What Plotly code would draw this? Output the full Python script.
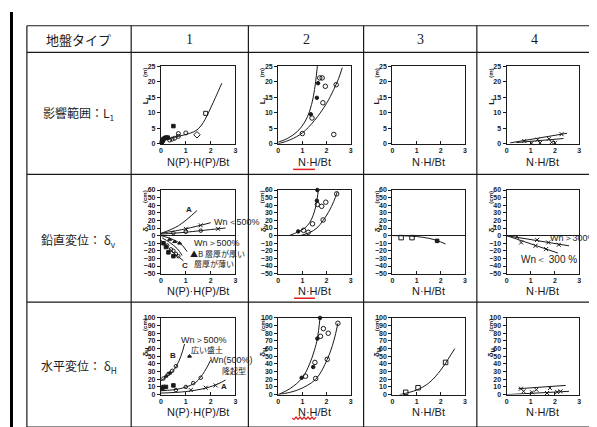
import plotly.graph_objects as go

W, H = 597, 427

# ---------------- text ----------------
header_labels = ["地盤タイプ", "1", "2", "3", "4"]
row_labels = ["影響範囲：L<sub>1</sub>", "鉛直変位： δ<sub>v</sub>", "水平変位： δ<sub>H</sub>"]
x_titles = ["N(P)·H(P)/Bt", "N·H/Bt", "N·H/Bt", "N·H/Bt"]
y_titles = ["L<sub>l</sub>", "δ<sub>v</sub>", "δ<sub>H</sub>"]
y_units = ["(m)", "(cm)", "(cm)"]
x_ticks = [0, 1, 2, 3]
l1_ticks = [0, 5, 10, 15, 20, 25]
dv_ticks = [-50, -40, -30, -20, -10, 0, 10, 20, 30, 40, 50, 60]
dh_ticks = [0, 10, 20, 30, 40, 50, 60, 70, 80, 90, 100]

# ---------------- data : row 1 (L1) ----------------
r1c1_curve_x = [0.05, 0.3, 0.6, 1.0, 1.3, 1.5, 1.7, 1.85, 2.0, 2.2, 2.45]
r1c1_curve_y = [1.0, 1.6, 2.2, 3.0, 3.8, 4.8, 6.8, 9.0, 11.5, 15.0, 19.5]
r1c1_fill_x = [0.03, 0.07, 0.1, 0.15, 0.2, 0.27, 0.5]
r1c1_fill_y = [0.5, 1.0, 1.5, 1.8, 2.0, 2.0, 5.7]
r1c1_open_x = [0.35, 0.45, 0.55, 0.7, 0.7, 1.0]
r1c1_open_y = [1.2, 1.5, 1.8, 2.4, 3.3, 3.5]
r1c1_dia_x = [1.45]
r1c1_dia_y = [2.9]
r1c1_sq_x = [1.8]
r1c1_sq_y = [9.8]

r1c2_a_x = [0.0, 0.4, 0.8, 1.1, 1.3, 1.45, 1.55, 1.62]
r1c2_a_y = [0.5, 1.8, 4.0, 7.0, 10.5, 15.0, 20.0, 25.0]
r1c2_b_x = [0.0, 0.5, 1.0, 1.5, 2.0, 2.3, 2.5, 2.65]
r1c2_b_y = [0.0, 1.3, 3.5, 7.5, 13.0, 17.5, 21.0, 24.5]
r1c2_fill_x = [1.35, 1.6, 1.65]
r1c2_fill_y = [9.5, 14.8, 19.5]
r1c2_open_x = [1.0, 1.4, 1.72, 1.82, 1.95, 1.85, 2.4, 2.3]
r1c2_open_y = [3.3, 8.3, 21.2, 21.2, 18.5, 13.2, 19.0, 3.0]

r1c4_l1_x = [0.15, 2.5]
r1c4_l1_y = [0.3, 3.4]
r1c4_l2_x = [0.4, 2.35]
r1c4_l2_y = [0.4, 1.7]
r1c4_x_x = [0.73, 1.28, 1.75, 2.27, 1.03, 1.38, 1.86, 2.0]
r1c4_x_y = [0.9, 1.3, 1.6, 3.1, 0.2, 0.3, 0.5, 0.3]

# ---------------- data : row 2 (dv) ----------------
r2c1_a_x = [0.0, 0.7, 1.45]
r2c1_a_y = [3.0, 13.0, 33.0]
r2c1_b_x = [0.0, 1.0, 2.0]
r2c1_b_y = [3.0, 9.0, 17.0]
r2c1_c_x = [0.0, 1.0, 2.0, 2.6]
r2c1_c_y = [2.0, 4.5, 8.0, 10.0]
r2c1_up_x_x = [1.0, 1.6, 2.3]
r2c1_up_x_y = [9.0, 13.5, 9.0]
r2c1_up_o_x = [0.5, 1.0, 1.6]
r2c1_up_o_y = [3.5, 5.0, 6.5]
r2c1_d1_x = [0.0, 0.4, 0.8, 1.05]
r2c1_d1_y = [0.0, -4.0, -11.0, -21.0]
r2c1_d2_x = [0.05, 0.35, 0.65, 0.85]
r2c1_d2_y = [-3.0, -9.0, -17.0, -26.0]
r2c1_d3_x = [0.0, 0.3, 0.6, 0.9]
r2c1_d3_y = [-6.0, -16.0, -25.0, -33.0]
r2c1_tri_x = [0.35, 0.55, 0.75]
r2c1_tri_y = [-5.0, -8.0, -10.0]
r2c1_sq_x = [0.1, 0.2, 0.3, 0.5]
r2c1_sq_y = [-10.0, -15.0, -22.0, -27.0]
r2c1_o_x = [0.25, 0.4, 0.5, 0.6, 0.7]
r2c1_o_y = [-13.0, -18.0, -20.0, -24.0, -27.0]

r2c2_a_x = [0.45, 0.83, 1.1, 1.3, 1.45, 1.55, 1.62, 1.66]
r2c2_a_y = [0.0, 5.0, 10.0, 17.0, 27.0, 38.0, 50.0, 60.0]
r2c2_b_x = [0.9, 1.3, 1.6, 1.86, 2.1, 2.3, 2.45]
r2c2_b_y = [0.0, 4.0, 10.0, 20.0, 32.0, 45.0, 58.0]
r2c2_fill_x = [0.83, 1.6, 1.62]
r2c2_fill_y = [5.6, 46.0, 60.0]
r2c2_open_x = [1.05, 1.24, 1.42, 1.62, 1.8, 1.97, 1.86, 2.42]
r2c2_open_y = [7.0, 4.4, 15.5, 41.0, 38.6, 44.0, 20.6, 55.0]

r2c3_curve_x = [0.0, 0.5, 1.0, 1.5, 1.85, 2.2]
r2c3_curve_y = [0.0, -0.3, -1.2, -3.5, -6.5, -11.0]
r2c3_open_x = [0.36, 0.81]
r2c3_open_y = [-2.6, -2.6]
r2c3_fill_x = [1.85]
r2c3_fill_y = [-6.9]

r2c4_l1_x = [0.0, 2.58]
r2c4_l1_y = [0.0, -13.4]
r2c4_l2_x = [0.0, 2.12]
r2c4_l2_y = [0.0, -22.9]
r2c4_x_x = [0.42, 0.6, 1.26, 1.72, 2.16, 1.19, 1.63]
r2c4_x_y = [-1.7, -9.0, -5.6, -9.0, -12.0, -13.4, -17.7]

# ---------------- data : row 3 (dH) ----------------
r3c1_b_x = [0.0, 0.3, 0.6, 0.8, 0.95]
r3c1_b_y = [18.0, 25.0, 36.0, 50.0, 66.0]
r3c1_m_x = [0.0, 0.8, 1.4, 1.75, 2.0]
r3c1_m_y = [5.0, 8.0, 16.0, 30.0, 45.0]
r3c1_a_x = [0.0, 1.0, 1.8, 2.3, 2.6]
r3c1_a_y = [2.0, 4.0, 8.5, 14.0, 19.0]
r3c1_o_x = [0.1, 0.3, 0.45, 0.6, 0.6, 1.0, 1.3, 1.6]
r3c1_o_y = [21.0, 27.0, 31.0, 37.0, 6.0, 10.0, 15.0, 22.0]
r3c1_tri_x = [0.2, 0.35, 1.15]
r3c1_tri_y = [24.0, 28.0, 50.0]
r3c1_sq_x = [0.05, 0.1, 0.2, 0.5]
r3c1_sq_y = [8.0, 10.0, 10.0, 12.0]
r3c1_x_x = [1.2, 1.8, 2.2]
r3c1_x_y = [6.0, 9.0, 12.0]

r3c2_a_x = [0.0, 0.5, 1.0, 1.3, 1.5, 1.62, 1.73]
r3c2_a_y = [0.0, 8.0, 22.0, 40.0, 58.0, 73.0, 100.0]
r3c2_b_x = [0.0, 0.8, 1.55, 2.03, 2.3, 2.47]
r3c2_b_y = [0.0, 6.0, 20.0, 46.0, 70.0, 93.0]
r3c2_fill_x = [0.97, 1.45, 1.62, 1.73]
r3c2_fill_y = [22.0, 36.0, 73.0, 100.0]
r3c2_open_x = [1.13, 1.55, 2.03, 2.47, 1.75, 1.87, 2.07, 1.52]
r3c2_open_y = [24.0, 21.0, 46.0, 93.0, 76.0, 86.0, 80.0, 42.0]

r3c3_curve_x = [0.3, 1.0, 1.5, 2.0, 2.3, 2.58]
r3c3_curve_y = [0.0, 6.0, 15.0, 32.0, 46.0, 60.0]
r3c3_sq_x = [0.55, 1.06, 2.2]
r3c3_sq_y = [3.0, 9.0, 42.0]

r3c4_l1_x = [0.49, 2.44]
r3c4_l1_y = [7.7, 12.0]
r3c4_l2_x = [0.0, 2.58]
r3c4_l2_y = [0.0, 4.3]
r3c4_x_x = [0.59, 0.7, 1.05, 1.23, 1.79, 1.67, 2.09, 2.23]
r3c4_x_y = [7.7, 4.3, 3.0, 6.4, 8.6, 2.1, 3.4, 4.3]

# ---------------- layout geometry (pixels) ----------------
col_lines = [17, 122, 240, 356, 470, 587]
row_lines = [14, 41, 165, 295, 422]
plot_x = [(152, 227), (270, 343), (385, 458), (500, 573)]
plot_y = [(55, 134), (181, 266), (311, 389)]
xtitle_y = [153, 284, 407]
y_ranges = [[0, 25], [-50, 60], [0, 100]]
y_tickvals = [l1_ticks, dv_ticks, dh_ticks]

INK = "#1a1a1a"
fig = go.Figure()


def px(x):
    return x / W


def py(y):
    return 1 - y / H


def aid(r, c):
    return r * 4 + c + 1


def add(r, c, x, y, mode="lines", symbol=None, size=4, width=1.0):
    n = aid(r, c)
    kw = dict(x=x, y=y, mode=mode, xaxis="x" if n == 1 else f"x{n}",
              yaxis="y" if n == 1 else f"y{n}", showlegend=False,
              hoverinfo="skip", cliponaxis=False)
    if "lines" in mode:
        kw["line"] = dict(color=INK, width=width, shape="spline")
    if "markers" in mode:
        kw["marker"] = dict(symbol=symbol, size=size, color=INK,
                            line=dict(color=INK, width=1))
    fig.add_trace(go.Scatter(**kw))


# row 1
add(0, 0, r1c1_curve_x, r1c1_curve_y)
add(0, 0, r1c1_fill_x, r1c1_fill_y, "markers", "square", 3.5)
add(0, 0, r1c1_open_x, r1c1_open_y, "markers", "circle-open", 4)
add(0, 0, r1c1_dia_x, r1c1_dia_y, "markers", "diamond-open", 5)
add(0, 0, r1c1_sq_x, r1c1_sq_y, "markers", "square-open", 4)
add(0, 1, r1c2_a_x, r1c2_a_y)
add(0, 1, r1c2_b_x, r1c2_b_y)
add(0, 1, r1c2_fill_x, r1c2_fill_y, "markers", "circle", 3.5)
add(0, 1, r1c2_open_x, r1c2_open_y, "markers", "circle-open", 4.5)
add(0, 2, [None], [None])
add(0, 3, r1c4_l1_x, r1c4_l1_y)
add(0, 3, r1c4_l2_x, r1c4_l2_y)
add(0, 3, r1c4_x_x, r1c4_x_y, "markers", "x-thin-open", 4)
# row 2
for xs, ys in [(r2c1_a_x, r2c1_a_y), (r2c1_b_x, r2c1_b_y), (r2c1_c_x, r2c1_c_y),
               (r2c1_d1_x, r2c1_d1_y), (r2c1_d2_x, r2c1_d2_y), (r2c1_d3_x, r2c1_d3_y)]:
    add(1, 0, xs, ys)
add(1, 0, r2c1_up_x_x, r2c1_up_x_y, "markers", "x-thin-open", 4)
add(1, 0, r2c1_up_o_x, r2c1_up_o_y, "markers", "circle-open", 3.5)
add(1, 0, r2c1_tri_x, r2c1_tri_y, "markers", "triangle-up", 3.5)
add(1, 0, r2c1_sq_x, r2c1_sq_y, "markers", "square", 3.5)
add(1, 0, r2c1_o_x, r2c1_o_y, "markers", "circle-open", 3.5)
add(1, 1, r2c2_a_x, r2c2_a_y)
add(1, 1, r2c2_b_x, r2c2_b_y)
add(1, 1, r2c2_fill_x, r2c2_fill_y, "markers", "circle", 3.5)
add(1, 1, r2c2_open_x, r2c2_open_y, "markers", "circle-open", 4.5)
add(1, 2, r2c3_curve_x, r2c3_curve_y)
add(1, 2, r2c3_open_x, r2c3_open_y, "markers", "square-open", 4.5)
add(1, 2, r2c3_fill_x, r2c3_fill_y, "markers", "square", 3.5)
add(1, 3, r2c4_l1_x, r2c4_l1_y)
add(1, 3, r2c4_l2_x, r2c4_l2_y)
add(1, 3, r2c4_x_x, r2c4_x_y, "markers", "x-thin-open", 4)
# row 3
for xs, ys in [(r3c1_b_x, r3c1_b_y), (r3c1_m_x, r3c1_m_y), (r3c1_a_x, r3c1_a_y)]:
    add(2, 0, xs, ys)
add(2, 0, r3c1_o_x, r3c1_o_y, "markers", "circle-open", 3.5)
add(2, 0, r3c1_tri_x, r3c1_tri_y, "markers", "triangle-up", 3.5)
add(2, 0, r3c1_sq_x, r3c1_sq_y, "markers", "square", 3.5)
add(2, 0, r3c1_x_x, r3c1_x_y, "markers", "x-thin-open", 4)
add(2, 1, r3c2_a_x, r3c2_a_y)
add(2, 1, r3c2_b_x, r3c2_b_y)
add(2, 1, r3c2_fill_x, r3c2_fill_y, "markers", "circle", 3.5)
add(2, 1, r3c2_open_x, r3c2_open_y, "markers", "circle-open", 4.5)
add(2, 2, r3c3_curve_x, r3c3_curve_y)
add(2, 2, r3c3_sq_x, r3c3_sq_y, "markers", "square-open", 4.5)
add(2, 3, r3c4_l1_x, r3c4_l1_y)
add(2, 3, r3c4_l2_x, r3c4_l2_y)
add(2, 3, r3c4_x_x, r3c4_x_y, "markers", "x-thin-open", 4)

tickfont = dict(family="Liberation Sans", size=7, color=INK, weight="bold")
layout = {}
for r in range(3):
    for c in range(4):
        n = aid(r, c)
        xs = "" if n == 1 else str(n)
        x0, x1 = plot_x[c]
        yt, yb = plot_y[r]
        layout[f"xaxis{xs}"] = dict(
            domain=[px(x0), px(x1)], range=[0, 3], tickvals=x_ticks,
            showgrid=False, zeroline=False, showline=True, mirror=True,
            linecolor=INK, linewidth=1.2, ticks="inside", ticklen=3,
            tickcolor=INK, tickfont=tickfont, anchor=f"y{xs}", fixedrange=True)
        layout[f"yaxis{xs}"] = dict(
            domain=[py(yb), py(yt)], range=y_ranges[r], tickvals=y_tickvals[r],
            showgrid=False, zeroline=(r == 1), zerolinecolor=INK, zerolinewidth=1,
            showline=True, mirror=True, linecolor=INK, linewidth=1.2,
            ticks="outside", ticklen=3, tickcolor=INK, tickfont=tickfont,
            anchor=f"x{xs}", fixedrange=True)

shapes = []
for x in col_lines:
    shapes.append(dict(type="line", xref="paper", yref="paper", x0=px(x), x1=px(x),
                       y0=py(row_lines[0]), y1=py(row_lines[-1]),
                       line=dict(color=INK, width=1.2)))
for y in row_lines:
    shapes.append(dict(type="line", xref="paper", yref="paper", x0=px(col_lines[0]),
                       x1=px(col_lines[-1]), y0=py(y), y1=py(y),
                       line=dict(color=INK, width=1.2)))
# scan edge line at the left
shapes.append(dict(type="line", xref="paper", yref="paper", x0=px(1.5), x1=px(1.5),
                   y0=0, y1=1, line=dict(color="black", width=3)))
# red underlines below "N·H" in column 2
shapes.append(dict(type="line", xref="paper", yref="paper", x0=px(285), x1=px(307),
                   y0=py(160), y1=py(160), line=dict(color="#e02020", width=1.5)))
shapes.append(dict(type="line", xref="paper", yref="paper", x0=px(286), x1=px(307),
                   y0=py(291), y1=py(291), line=dict(color="#e02020", width=1.5)))
wave = "M {} {}".format(px(284), py(413))
k = 0
for xx in range(286, 309, 2):
    k += 1
    wave += " L {} {}".format(px(xx), py(413 + (1.2 if k % 2 else -1.2)))
shapes.append(dict(type="path", xref="paper", yref="paper", path=wave,
                   line=dict(color="#e02020", width=1.2)))
layout["shapes"] = shapes

anns = []


def ann(text, x, y, size=10, xanchor="center", family="Liberation Sans", angle=0,
        weight="normal"):
    anns.append(dict(text=text, x=px(x), y=py(y), xref="paper", yref="paper",
                     showarrow=False, xanchor=xanchor, yanchor="middle",
                     textangle=angle,
                     font=dict(family=family, size=size, color=INK, weight=weight)))


CJK = "Noto Sans CJK JP"
ann(header_labels[0], 69, 28, 13, family=CJK)
for c in range(4):
    ann(header_labels[c + 1], (col_lines[c + 1] + col_lines[c + 2]) / 2, 28, 14,
        family="Liberation Serif")
row_mid = [103, 232, 360]
for r in range(3):
    ann(row_labels[r], 69, row_mid[r], 12, family=CJK)
    for c in range(4):
        x0, x1 = plot_x[c]
        ann(x_titles[c], (x0 + x1) / 2, xtitle_y[r], 11)
        ann(y_units[r], x0 - 16, plot_y[r][0] + 7, 6, angle=-90, weight="bold")
        ann(y_titles[r], x0 - 15, (plot_y[r][0] * 0.55 + plot_y[r][1] * 0.45), 8,
            angle=-90, weight="bold")

# labels inside column 1 row 2
ann("A", 180, 201, 8, weight="bold")
ann("Wn＜500%", 203, 214, 9, xanchor="left")
ann("Wn＞500%", 183, 235, 9, xanchor="left")
ann("▲B 層厚が厚い", 179, 246, 8, xanchor="left", family=CJK)
ann("C", 176, 258, 8, weight="bold")
ann("層厚が薄い", 183, 256, 8, xanchor="left", family=CJK)
# labels inside column 1 row 3
ann("Wn＞500%", 170, 333, 9, xanchor="left")
ann("広い盛土", 180, 343, 8, xanchor="left", family=CJK)
ann("B", 164, 349, 8, weight="bold")
ann("Wn(500%)", 199, 354, 9, xanchor="left")
ann("隆起型", 211, 364, 8, xanchor="left", family=CJK)
ann("A", 215, 381, 8, weight="bold")
# labels column 4 row 2
ann("Wn＞300%", 592, 230, 9, xanchor="right")
ann("Wn＜ 300 %", 512, 252, 10, xanchor="left")
layout["annotations"] = anns

fig.update_layout(width=W, height=H, margin=dict(l=0, r=0, t=0, b=0),
                  paper_bgcolor="white", plot_bgcolor="white", **layout)
fig.write_html("out.html")
